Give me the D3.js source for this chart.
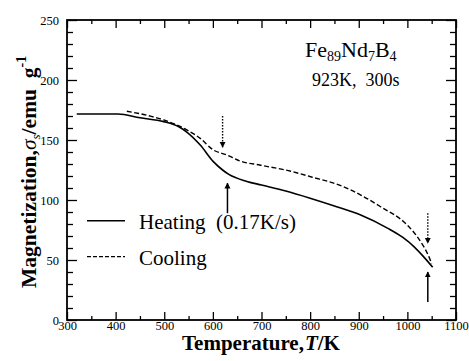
<!DOCTYPE html>
<html>
<head>
<meta charset="utf-8">
<script src="https://cdn.jsdelivr.net/npm/d3@7"></script>
<style>
body { margin: 0; background: #fff; }
</style>
</head>
<body>
<svg id="chart"></svg>
<script>
// heating curve (T in K, magnetization emu/g)
var heatingT = [320, 405, 450, 499, 530, 547, 574, 601, 620, 632, 670, 700, 750, 800, 850, 904, 959, 990, 1014, 1035, 1052];
var heatingM = [171.7, 171.7, 168.5, 165.3, 161, 156.4, 145.8, 132, 125, 121.5, 115.5, 112.5, 107.5, 101.5, 95, 87.5, 76.6, 69, 61, 52, 44];

// cooling curve
var coolingT = [423, 460, 499, 547, 574, 601, 629, 656, 698, 760, 801, 863, 945, 1000, 1021, 1044, 1050];
var coolingM = [174, 171, 166.7, 158.3, 151.4, 141.7, 137.5, 132.5, 129, 124, 119.4, 112, 94.4, 79, 69, 53, 47];

// arrows: x position, start value, end value, dotted?
var arrowT = [620, 630, 1042, 1042];
var arrowFrom = [170, 89, 89, 15];
var arrowTo = [144, 114, 64, 40];
var arrowDotted = [true, false, true, false];

var xTicks = [300, 400, 500, 600, 700, 800, 900, 1000, 1100];
var yTicks = [0, 50, 100, 150, 200, 250];

var legendNames = ["Heating  (0.17K/s)", "Cooling"];

var FONT = "'Liberation Serif'";

var drawChart = function(target)
{
    var screen = {width:469, height:361};
    var margins = {top:20, bottom:41, left:67, right:13};
    var graph = {
        width:screen.width-margins.left-margins.right,
        height:screen.height-margins.top-margins.bottom
    };

    var svg = d3.select(target)
        .attr("width", screen.width)
        .attr("height", screen.height);

    var xScale = d3.scaleLinear().domain([300,1100]).range([0,graph.width]);
    var yScale = d3.scaleLinear().domain([0,250]).range([graph.height,0]);

    var g = svg.append("g")
        .attr("transform","translate("+margins.left+","+margins.top+")");

    // minor ticks first, then majors (inward on all four sides)
    var xMinor = d3.range(350, 1100, 100);
    var yMinor = d3.range(0, 251, 10).filter(function(v){ return v % 50 != 0; });

    var bottom = g.append("g").attr("transform","translate(0,"+graph.height+")");
    bottom.call(d3.axisBottom(xScale).tickValues(xMinor).tickSize(-4).tickFormat(""));
    bottom.append("g").call(d3.axisBottom(xScale).tickValues(xTicks).tickSize(-8).tickPadding(1).tickFormat(d3.format("d")));
    var topAxis = g.append("g");
    topAxis.call(d3.axisTop(xScale).tickValues(xMinor).tickSize(-4).tickFormat(""));
    topAxis.append("g").call(d3.axisTop(xScale).tickValues(xTicks).tickSize(-8).tickFormat(""));

    var left = g.append("g");
    left.call(d3.axisLeft(yScale).tickValues(yMinor).tickSize(-6).tickFormat(""));
    left.append("g").call(d3.axisLeft(yScale).tickValues(yTicks).tickSize(-10).tickPadding(6).tickFormat(d3.format("d")));
    var right = g.append("g").attr("transform","translate("+graph.width+",0)");
    right.call(d3.axisRight(yScale).tickValues(yMinor).tickSize(-6).tickFormat(""));
    right.append("g").call(d3.axisRight(yScale).tickValues(yTicks).tickSize(-10).tickFormat(""));

    g.selectAll(".domain").remove();
    g.selectAll(".tick line").attr("stroke","#000").attr("stroke-width",1.3);
    g.selectAll(".tick text").style("font-size","12.5px");
    left.selectAll(".tick text").attr("dx","-2");

    g.append("rect")
        .attr("width",graph.width)
        .attr("height",graph.height)
        .attr("fill","none")
        .attr("stroke","#000")
        .attr("stroke-width",1.8);

    var line = d3.line()
        .x(function(d){ return xScale(d[0]); })
        .y(function(d){ return yScale(d[1]); })
        .curve(d3.curveMonotoneX);

    g.append("path")
        .datum(d3.zip(heatingT, heatingM))
        .attr("d", line)
        .attr("fill","none")
        .attr("stroke","#000")
        .attr("stroke-width",1.6);

    g.append("path")
        .datum(d3.zip(coolingT, coolingM))
        .attr("d", line)
        .attr("fill","none")
        .attr("stroke","#000")
        .attr("stroke-width",1.4)
        .attr("stroke-dasharray","5,2.5");

    // arrows
    var defs = svg.append("defs");
    defs.append("marker")
        .attr("id","head")
        .attr("viewBox","0 0 10 10")
        .attr("refX",9).attr("refY",5)
        .attr("markerWidth",6).attr("markerHeight",7)
        .attr("markerUnits","userSpaceOnUse")
        .attr("orient","auto")
        .append("path")
        .attr("d","M0,0L10,5L0,10Z")
        .attr("fill","#000");

    arrowT.forEach(function(t,i)
    {
        g.append("line")
            .attr("x1",xScale(t)).attr("x2",xScale(t))
            .attr("y1",yScale(arrowFrom[i])).attr("y2",yScale(arrowTo[i]))
            .attr("stroke","#000")
            .attr("stroke-width",arrowDotted[i] ? 1.4 : 1.5)
            .attr("stroke-dasharray",arrowDotted[i] ? "1.5,1.5" : null)
            .attr("marker-end","url(#head)");
    });

    // legend
    var legend = g.append("g");
    legendNames.forEach(function(name,i)
    {
        var ly = 220.7 + i*36 - margins.top;
        legend.append("line")
            .attr("x1",20).attr("x2",58)
            .attr("y1",ly).attr("y2",ly)
            .attr("stroke","#000")
            .attr("stroke-width",i==0 ? 1.6 : 1.2)
            .attr("stroke-dasharray",i==0 ? null : "4,2");
        legend.append("text")
            .attr("x",72).attr("y",ly+8)
            .style("font-size","21px")
            .text(name);
    });

    // sample name
    var title = svg.append("text")
        .attr("x",305).attr("y",57)
        .style("font-size","22px");
    title.append("tspan").text("Fe");
    title.append("tspan").attr("dy",4).style("font-size","14px").text("89");
    title.append("tspan").attr("dy",-4).text("Nd");
    title.append("tspan").attr("dy",4).style("font-size","14px").text("7");
    title.append("tspan").attr("dy",-4).text("B");
    title.append("tspan").attr("dy",4).style("font-size","14px").text("4");

    svg.append("text")
        .attr("x",312).attr("y",86)
        .style("font-size","18px")
        .text("923K,  300s");

    // every text element gets the serif face inline, spaces kept
    svg.selectAll("text").style("font-family", FONT).style("fill","#000").style("white-space","pre");

    // x axis title, pieces placed one after another
    var xParts = [["Temperature,","normal"],["T","italic"],["/K","normal"]];
    var xPos = 182;
    xParts.forEach(function(p)
    {
        var t = svg.append("text")
            .attr("x",xPos).attr("y",349.5)
            .style("font-family",FONT)
            .style("font-size","21px")
            .style("font-weight","bold")
            .style("font-style",p[1])
            .text(p[0]);
        xPos += t.node().getComputedTextLength() + (p[0]=="Temperature," ? 1 : 0);
    });

    // y axis title
    var yl = svg.append("text")
        .attr("transform","translate(35.5,288) rotate(-90)")
        .style("font-family",FONT)
        .style("white-space","pre")
        .style("font-size","21.5px")
        .style("font-weight","bold")
        .text("Magnetization,");
    yl.append("tspan").style("font-style","italic").style("font-weight","normal").text("σ");
    yl.append("tspan").attr("dy",4).style("font-size","13px").style("font-style","italic").style("font-weight","normal").text("s");
    yl.append("tspan").attr("dy",-4).text("/emu  g");
    yl.append("tspan").attr("dy",-10).style("font-size","14px").text("-1");
};

drawChart("#chart");
</script>
</body>
</html>
